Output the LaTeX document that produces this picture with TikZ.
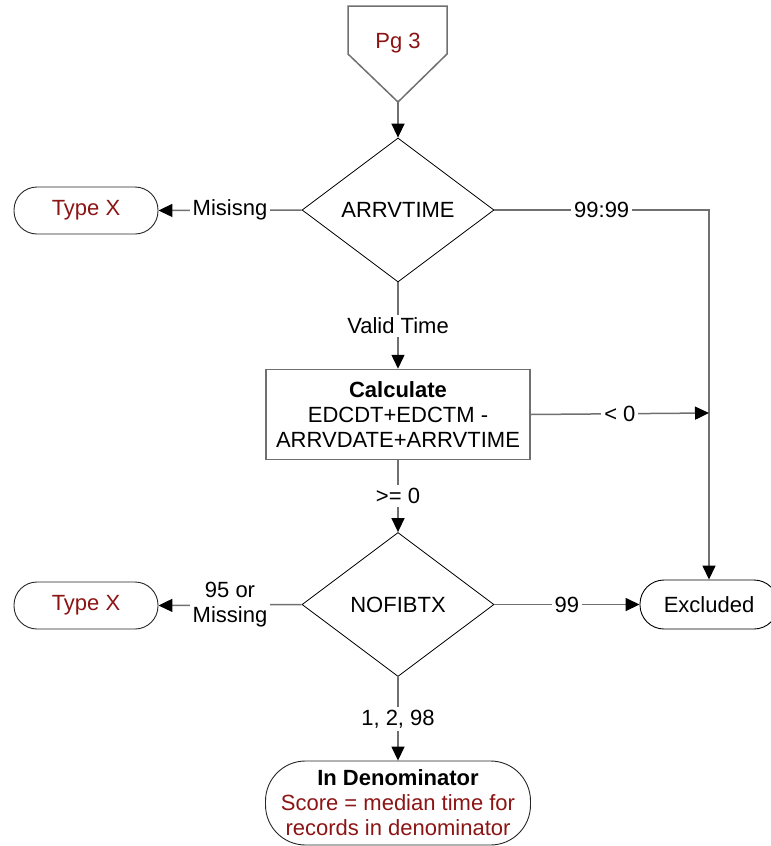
\documentclass[tikz,border=0pt]{standalone}
\usepackage{fontspec}
\setmainfont{Liberation Sans}
\usetikzlibrary{shapes.geometric,arrows.meta}
\definecolor{dred}{RGB}{140,20,20}
\definecolor{lgray}{RGB}{112,112,112}
\begin{document}
\begin{tikzpicture}[x=1pt,y=-1pt,
  every node/.style={font=\fontsize{22}{25}\selectfont},
  conn/.style={draw=lgray,line width=1.5pt,-{Triangle[length=14pt,width=13pt,color=black]}},
  plain/.style={draw=lgray,line width=1.5pt},
  lbl/.style={fill=white,inner sep=3pt,align=center},
  dec/.style={diamond,draw=black,line width=0.8pt,minimum width=192pt,minimum height=144pt,inner sep=0pt},
  term/.style={draw=black!85,line width=0.9pt,rounded corners=23pt,minimum width=144pt,minimum height=47pt,inner sep=0pt,align=center},
  proc/.style={rectangle,draw=lgray,line width=1.5pt,align=center,minimum width=264pt,minimum height=90pt,inner sep=0pt}]
\useasboundingbox (0,0) rectangle (771,846);
\clip (0,0) rectangle (771,846);
% off-page connector
\draw[plain] (348,6) -- (447,6) -- (447,54) -- (398,102) -- (348,54) -- cycle;
\node[text=dred] (pg) at (398,43) {Pg 3};
\coordinate (pgtip) at (398,102);
% nodes
\node[dec] (d1) at (398,210) {ARRVTIME};
\node[term,text=dred] (tx1) at (86,210.5) {Type X};
\node[proc] (calc) at (398,414.5) {\textbf{Calculate}\\EDCDT+EDCTM -\\ARRVDATE+ARRVTIME};
\node[dec] (d2) at (398,604.5) {NOFIBTX};
\node[term,text=dred] (tx2) at (86,605.5) {Type X};
\node[term,draw=black,minimum width=138pt,minimum height=49pt,rounded corners=24pt] (ex) at (709,604.5) {Excluded};
\node[term,minimum width=265pt,minimum height=84pt,rounded corners=40pt] (den) at (398,803) {\textbf{In Denominator}\\\textcolor{dred}{Score = median time for}\\\textcolor{dred}{records in denominator}};
\coordinate (c1) at (709,210);
\coordinate (j1) at (709,413);
% connectors
\draw[conn] (pgtip) -- (d1.north);
\draw[conn] (d1.west) -- node[lbl]{Misisng} (tx1.east);
\draw[conn] (d1.east) -- node[lbl]{99:99} (c1) -- (ex.north);
\draw[conn] (d1.south) -- node[lbl]{Valid Time} (calc.north);
\draw[conn] (calc.east) -- node[lbl]{< 0} (j1);
\draw[conn] (calc.south) -- node[lbl]{>= 0} (d2.north);
\draw[conn] (d2.west) -- node[lbl]{95 or\\Missing} (tx2.east);
\draw[conn] (d2.east) -- node[lbl]{99} (ex.west);
\draw[conn] (d2.south) -- node[lbl]{1, 2, 98} (den.north);
\end{tikzpicture}
\end{document}
